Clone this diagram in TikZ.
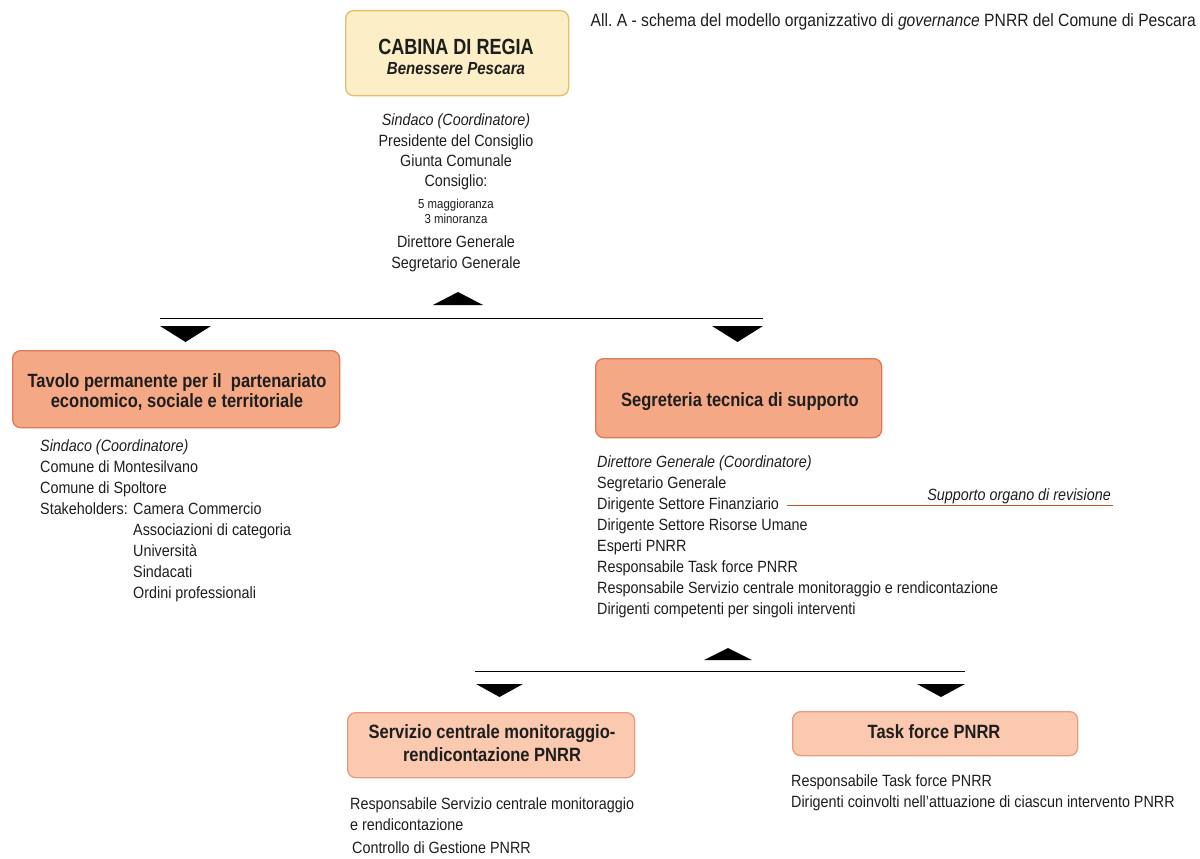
\documentclass[tikz,border=0pt]{standalone}
\usepackage{fontspec}
\setmainfont{Liberation Sans}[FakeStretch=0.88]
\newfontfamily\headfont{Liberation Sans}[FakeStretch=0.86]
\newfontfamily\cabfont{Liberation Sans}[FakeStretch=0.82]
\definecolor{cabfill}{HTML}{FCEEC6}
\definecolor{cabline}{HTML}{E2C06C}
\definecolor{mainfill}{HTML}{F5A886}
\definecolor{mainline}{HTML}{DE7A54}
\definecolor{subfill}{HTML}{FAC9AF}
\definecolor{subline}{HTML}{E59D7E}
\definecolor{txt}{HTML}{1E1E1E}
\definecolor{revline}{HTML}{C05A28}
\begin{document}
\begin{tikzpicture}[x=1pt,y=-1pt,
  box/.style={rounded corners=8pt, line width=1.3pt, anchor=north west, inner sep=0pt},
  cabbox/.style={box, fill=cabfill, draw=cabline},
  mainbox/.style={box, fill=mainfill, draw=mainline},
  subbox/.style={box, fill=subfill, draw=subline},
  lst/.style={anchor=north west, inner sep=0pt, align=left, text=txt, font=\fontsize{16.3}{21}\selectfont},
  clst/.style={anchor=north, inner sep=0pt, align=center, text=txt},
  head/.style={inner sep=0pt, text=txt, font=\headfont\bfseries\fontsize{19.2}{20}\selectfont},
  tri/.style={fill=black},
  bus/.style={line width=1pt, draw=black}]
\useasboundingbox (0,0) rectangle (1200,859);

% title
\node[anchor=base east, inner sep=0pt, text=txt, font=\fontsize{17.8}{21}\selectfont] (title) at (1196,27)
  {All.\ A - schema del modello organizzativo di \textit{governance} PNRR del Comune di Pescara};

% Cabina di regia
\node[cabbox, minimum width=223pt, minimum height=85pt] (cab) at (345,10) {};
\node[anchor=base, inner sep=0pt, text=txt, font=\cabfont\bfseries\fontsize{22}{24}\selectfont] (cabt1) at (456,55) {CABINA DI REGIA};
\node[anchor=base, inner sep=0pt, text=txt, font=\headfont\bfseries\itshape\fontsize{17.5}{20}\selectfont] (cabt2) at (456,75) {Benessere Pescara};
\node[clst, font=\fontsize{16.3}{20.3}\selectfont] (cabA) at (456,111.5)
  {\strut\textit{Sindaco (Coordinatore)}\\Presidente del Consiglio\\Giunta Comunale\\Consiglio:};
\node[clst, font=\fontsize{13}{15}\selectfont] (cabB) at (456,198.2)
  {\strut 5 maggioranza\\3 minoranza};
\node[clst, font=\fontsize{16.3}{21}\selectfont] (cabC) at (456,233)
  {\strut Direttore Generale\\Segretario Generale};

% top connector
\coordinate (upT) at (458,305);
\fill[tri] (433,305) -- (483,305) -- (458,292) -- cycle;
\coordinate (busL) at (160,318);
\coordinate (busR) at (763,318);
\draw[bus] (busL) -- (busR);
\fill[tri] (160,326) -- (211,326) -- (185.5,342) -- cycle;
\fill[tri] (712,326) -- (763,326) -- (737.5,342) -- cycle;

% Tavolo permanente
\node[mainbox, minimum width=327pt, minimum height=77pt] (tav) at (12,350) {};
\node[head, anchor=north, align=center] (tavt) at (177,373)
  {\strut Tavolo permanente per il\ \ partenariato\\economico, sociale e territoriale};
\node[lst] (tavl) at (40,437)
  {\strut\textit{Sindaco (Coordinatore)}\\
   Comune di Montesilvano\\
   Comune di Spoltore\\
   Stakeholders: Camera Commercio\\
   \phantom{Stakeholders: }Associazioni di categoria\\
   \phantom{Stakeholders: }Università\\
   \phantom{Stakeholders: }Sindacati\\
   \phantom{Stakeholders: }Ordini professionali};

% Segreteria tecnica
\node[mainbox, minimum width=286pt, minimum height=79pt] (seg) at (595,358) {};
\node[head, anchor=base] (segt) at (740,406.8) {Segreteria tecnica di supporto};
\node[lst] (segl) at (597,452.5)
  {\strut\textit{Direttore Generale (Coordinatore)}\\
   Segretario Generale\\
   Dirigente Settore Finanziario\\
   Dirigente Settore Risorse Umane\\
   Esperti PNRR\\
   Responsabile Task force PNRR\\
   Responsabile Servizio centrale monitoraggio e rendicontazione\\
   Dirigenti competenti per singoli interventi};
\coordinate (finL) at (787,505);
\coordinate (revR) at (1113,505);
\draw[revline, line width=1pt] (finL) -- (revR);
\node[anchor=base east, inner sep=0pt, text=txt, font=\fontsize{16.3}{21}\selectfont\itshape] (rev) at (1111,500)
  {Supporto organo di revisione};

% bottom connector
\fill[tri] (704,660) -- (752,660) -- (728,648) -- cycle;
\coordinate (bbusL) at (475,671);
\coordinate (bbusR) at (965,671);
\draw[bus] (bbusL) -- (bbusR);
\fill[tri] (476,684) -- (523,684) -- (499.5,697) -- cycle;
\fill[tri] (917,684) -- (965,684) -- (941,697) -- cycle;

% Servizio centrale
\node[subbox, minimum width=287pt, minimum height=65pt] (serv) at (347,712) {};
\node[head, anchor=north, align=center, font=\headfont\bfseries\fontsize{19.2}{23}\selectfont] (servt) at (492,721.7)
  {\strut Servizio centrale monitoraggio-\\rendicontazione PNRR};
\node[lst] (servl) at (350,794.5)
  {\strut Responsabile Servizio centrale monitoraggio\\e rendicontazione};
\node[anchor=base west, inner sep=0pt, text=txt, font=\fontsize{16.3}{21}\selectfont] (servc) at (352,853.2)
  {Controllo di Gestione PNRR};

% Task force
\node[subbox, minimum width=285pt, minimum height=44pt] (task) at (792,711) {};
\node[head, anchor=base] (taskt) at (934,738.8) {Task force PNRR};
\node[lst] (taskl) at (791,772)
  {\strut Responsabile Task force PNRR\\
   Dirigenti coinvolti nell'attuazione di ciascun intervento PNRR};
\end{tikzpicture}
\end{document}
